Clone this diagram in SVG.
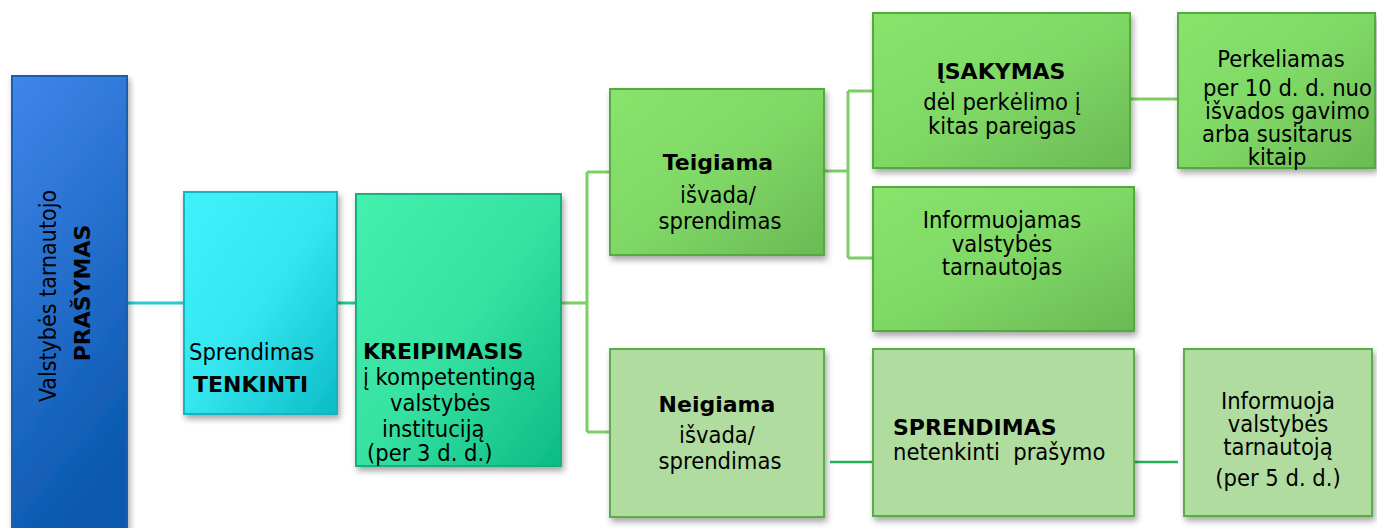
<svg xmlns="http://www.w3.org/2000/svg" width="1377" height="528" viewBox="0 0 1377 528">
<defs>
<linearGradient id="gBlue" x1="0" y1="0" x2="0.3" y2="1"><stop offset="0" stop-color="#4086ea"/><stop offset="1" stop-color="#0b59b0"/></linearGradient>
<linearGradient id="gCyan" x1="0" y1="0" x2="1" y2="1"><stop offset="0" stop-color="#3ff2fc"/><stop offset="0.5" stop-color="#34e6f0"/><stop offset="1" stop-color="#0abcc6"/></linearGradient>
<linearGradient id="gMint" x1="0" y1="0" x2="1" y2="1"><stop offset="0" stop-color="#44f0ae"/><stop offset="0.5" stop-color="#36e2a2"/><stop offset="1" stop-color="#0cbb84"/></linearGradient>
<linearGradient id="gGreen" x1="0" y1="0" x2="1" y2="1"><stop offset="0" stop-color="#88e46c"/><stop offset="0.5" stop-color="#7fd865"/><stop offset="1" stop-color="#6bb954"/></linearGradient>
<filter id="sh" x="-10%" y="-10%" width="125%" height="130%"><feDropShadow dx="2" dy="4" stdDeviation="3" flood-color="#000" flood-opacity="0.35"/></filter>
</defs>
<style>
.reg{font-family:"DejaVu Sans Condensed","DejaVu Sans",sans-serif;font-size:23.5px;fill:#000;}
.bold{font-family:"DejaVu Sans","Verdana",sans-serif;font-weight:bold;font-size:22px;fill:#000;}
.mid{text-anchor:middle;}
.pre{white-space:pre;}
.green{fill:url(#gGreen);stroke:#55a93f;stroke-width:2;filter:url(#sh);}
.light{fill:#b0dc9f;stroke:#5aae46;stroke-width:2;filter:url(#sh);}
.ln{fill:none;stroke:#7ccf63;stroke-width:3;}
.ln2{fill:none;stroke:#26b157;stroke-width:2.5;}
</style>
<g id="connectors">
<line x1="127" y1="303" x2="184" y2="303" stroke="#28c9d2" stroke-width="3"/>
<line x1="337" y1="303" x2="356" y2="303" stroke="#22c690" stroke-width="3"/>
<path class="ln" d="M561 303 H587 M587 172 V432 M587 172 H610 M587 432 H610"/>
<path class="ln" d="M824 171 H848 M848 91 V258 M848 91 H873 M848 258 H873"/>
<line class="ln" x1="1130" y1="99" x2="1185" y2="99" stroke-width="4"/>
<line class="ln2" x1="830" y1="462" x2="876" y2="462"/>
<line class="ln2" x1="1131" y1="462" x2="1178" y2="462"/>
</g>
<g id="node-prasymas">
<rect x="12" y="76" width="115" height="470" fill="url(#gBlue)" stroke="#1a5db0" stroke-width="2" filter="url(#sh)"/>
<text class="reg mid" transform="translate(56,296) rotate(-90)" style="font-size:23px">Valstybės tarnautojo</text>
<text class="bold mid" transform="translate(90,293) rotate(-90)">PRAŠYMAS</text>
</g>
<g id="node-tenkinti">
<rect x="184" y="192" width="153" height="222" fill="url(#gCyan)" stroke="#14b4bc" stroke-width="2" filter="url(#sh)"/>
<text class="reg" x="189" y="360">Sprendimas</text>
<text class="bold" x="193" y="392">TENKINTI</text>
</g>
<g id="node-kreipimasis">
<rect x="356" y="194" width="205" height="272" fill="url(#gMint)" stroke="#14b07c" stroke-width="2" filter="url(#sh)"/>
<text class="bold" x="363" y="359">KREIPIMASIS</text>
<text class="reg" x="363" y="385">į kompetentingą</text>
<text class="reg" x="390" y="411">valstybės</text>
<text class="reg" x="382" y="437">instituciją</text>
<text class="reg" x="367" y="461">(per 3 d. d.)</text>
</g>
<g id="node-teigiama">
<rect class="green" x="610" y="89" width="214" height="166"/>
<text class="bold mid" x="718" y="170">Teigiama</text>
<text class="reg mid" x="718" y="203">išvada/</text>
<text class="reg mid" x="720" y="229">sprendimas</text>
</g>
<g id="node-isakymas">
<rect class="green" x="873" y="13" width="257" height="155"/>
<text class="bold mid" x="1001" y="79">ĮSAKYMAS</text>
<text class="reg mid" x="1002" y="110">dėl perkėlimo į</text>
<text class="reg mid" x="1002" y="134">kitas pareigas</text>
</g>
<g id="node-perkeliamas">
<rect class="green" x="1178" y="13" width="197" height="155"/>
<text class="reg mid" x="1281" y="67">Perkeliamas</text>
<text class="reg" x="1203" y="96">per 10 d. d. nuo</text>
<text class="reg" x="1205" y="119">išvados gavimo</text>
<text class="reg" x="1202" y="142">arba susitarus</text>
<text class="reg mid" x="1277" y="165">kitaip</text>
</g>
<g id="node-informuojamas">
<rect class="green" x="873" y="187" width="261" height="144"/>
<text class="reg mid" x="1002" y="228">Informuojamas</text>
<text class="reg mid" x="1002" y="252">valstybės</text>
<text class="reg mid" x="1002" y="275">tarnautojas</text>
</g>
<g id="node-neigiama">
<rect class="light" x="610" y="349" width="214" height="168"/>
<text class="bold mid" x="717" y="412">Neigiama</text>
<text class="reg mid" x="717" y="443">išvada/</text>
<text class="reg mid" x="720" y="469">sprendimas</text>
</g>
<g id="node-sprendimas">
<rect class="light" x="873" y="349" width="261" height="167"/>
<text class="bold" x="893" y="435">SPRENDIMAS</text>
<text class="reg pre" x="893" y="460">netenkinti  prašymo</text>
</g>
<g id="node-informuoja">
<rect class="light" x="1184" y="349" width="188" height="167"/>
<text class="reg mid" x="1278" y="409">Informuoja</text>
<text class="reg mid" x="1278" y="432">valstybės</text>
<text class="reg mid" x="1278" y="455">tarnautoją</text>
<text class="reg mid" x="1278" y="486">(per 5 d. d.)</text>
</g>
</svg>
